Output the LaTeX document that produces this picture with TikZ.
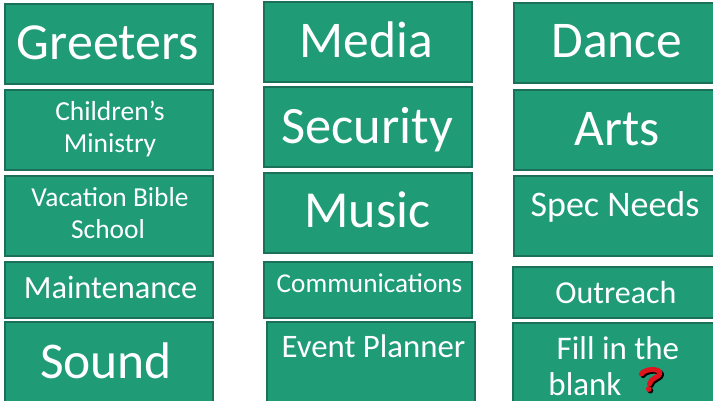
\documentclass[tikz,border=0pt]{standalone}
\usepackage{fontspec}
\setmainfont{Carlito}
\definecolor{boxfill}{HTML}{1F9B76}
\definecolor{boxedge}{HTML}{1B7059}
\definecolor{qred}{HTML}{E0141C}
\tikzset{
  x=1pt,y=-1pt,
  tile/.style={draw=boxedge,line width=1.3pt,fill=boxfill},
  lab/.style={text=white,anchor=base,inner sep=0pt,outer sep=0pt},
  qhook/.style={line width=5pt,line cap=round,line join=round},
}
\newcommand{\tile}[5]{\draw[tile] (#2,#3) rectangle (#4,#5); \coordinate (#1) at (#2,#3);}
\newcommand{\lab}[5]{\node[lab,font=\fontsize{#4}{#4}\selectfont] (#1) at (#2,#3) {#5};}
\newcommand{\qmark}[3]{%
  \begin{scope}[shift={(#1,#2)}]
    \draw[qhook,draw=#3] (641.5,374) .. controls (645,368.5) and (659,368) .. (660,373) .. controls (660.5,377) and (650,378) .. (649.5,384);
    \fill[#3] (648.8,389) circle (2.9pt);
  \end{scope}}
\begin{document}
\begin{tikzpicture}
\useasboundingbox (0,0) rectangle (713,401);
\clip (0,0) rectangle (713,401);
\fill[white] (0,0) rectangle (713,401);
\tile{a}{5}{4}{213}{84}
\tile{b}{5}{90}{213}{170}
\tile{c}{5}{176}{213}{256}
\tile{d}{5}{262}{213}{318}
\tile{e}{5}{322}{213}{410}
\tile{f}{264}{2}{472}{82}
\tile{g}{264}{87}{472}{167}
\tile{h}{264}{173}{472}{253}
\tile{i}{264}{262}{472}{318}
\tile{j}{267}{322}{475}{410}
\tile{k}{514}{3}{722}{83}
\tile{l}{514}{90}{722}{170}
\tile{m}{514}{176}{722}{256}
\tile{n}{513}{267}{722}{318}
\tile{o}{513}{323}{722}{410}
\lab{t1}{108}{60}{52}{Greeters}
\lab{t2}{110}{121}{27.5}{Children’s}
\lab{t3}{110}{153}{27.5}{Ministry}
\lab{t4}{110}{207}{27.4}{Vacation Bible}
\lab{t5}{108}{239}{27.4}{School}
\lab{t6}{110.5}{298.5}{32.4}{Maintenance}
\lab{t7}{106}{378}{51.5}{Sound}
\lab{t8}{366.5}{58}{51.5}{Media}
\lab{t9}{367}{144}{52.5}{Security}
\lab{t10}{367.5}{228}{52}{Music}
\lab{t11}{369.5}{292.5}{27.2}{Communications}
\lab{t12}{373.5}{357.5}{32.8}{Event Planner}
\lab{t13}{617}{58}{51.5}{Dance}
\lab{t14}{617.5}{146}{51.5}{Arts}
\lab{t15}{615}{217}{36}{Spec Needs}
\lab{t16}{616}{303}{32}{Outreach}
\lab{t17}{618}{359}{33}{Fill in the}
\lab{t18}{585}{395}{33}{blank}
\qmark{1.6}{1.6}{black}
\qmark{0}{0}{qred}
\end{tikzpicture}
\end{document}
